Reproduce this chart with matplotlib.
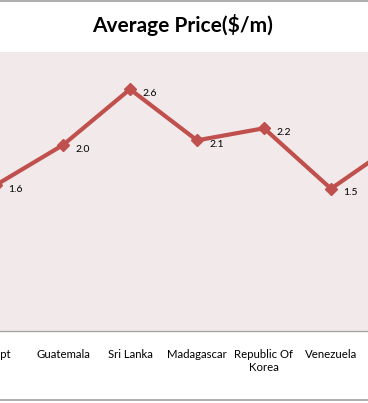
import matplotlib.pyplot as plt
from matplotlib.lines import Line2D

# data (last country is cut off in the reference)
countries = ['Egypt', 'Guatemala', 'Sri Lanka', 'Madagascar', 'Republic Of\nKorea', 'Venezuela', '']
prices = [1.57, 2.0, 2.6, 2.05, 2.18, 1.53, 2.03]
labels = ['1.6', '2.0', '2.6', '2.1', '2.2', '1.5', '2.0']

plt.rcParams['font.family'] = ['Lato', 'DejaVu Sans']

W, H = 368, 403
fig = plt.figure(figsize=(W / 100, H / 100), dpi=100)
fig.patch.set_facecolor('white')

# the reference is a crop: the plot area runs past both side edges.
# category step is 67 px, first category sits at x = -4 px
step, first = 67, -4
left_px = first - 0.5 * step
right_px = first + 6.5 * step
ax = fig.add_axes([left_px / W, 72 / H, (right_px - left_px) / W, 279 / H])
ax.set_facecolor('#F2EAEA')

x = list(range(len(countries)))
ax.plot(x, prices, color='#C0504D', lw=3, marker='D', ms=6, mec='#C0504D', mfc='#C0504D')
for xi, yi, lab in zip(x, prices, labels):
    ax.annotate(lab, (xi, yi), xytext=(9, -3), textcoords='offset points',
                fontsize=7.5, color='black', va='center', ha='left')

ax.set_xticks(x)
ax.set_xticklabels(countries, fontsize=8.2, linespacing=1.25)
ax.set_xlim(-0.5, 6.5)
ax.set_ylim(0, 3)
ax.tick_params(axis='x', length=0, pad=13)
ax.set_yticks([])
for side in ['top', 'left', 'right']:
    ax.spines[side].set_visible(False)
ax.spines['bottom'].set_color('#A6A6A6')
ax.spines['bottom'].set_linewidth(1)

fig.text(0.497, 1 - 25 / H, 'Average Price($/m)', ha='center', va='center',
         fontsize=15, fontweight='bold')

# chart border (top and bottom visible in the crop)
fig.add_artist(Line2D([0, 1], [1 - 1 / H, 1 - 1 / H], color='#A0A0A0', lw=1.2))
fig.add_artist(Line2D([0, 1], [3 / H, 3 / H], color='#A0A0A0', lw=1.2))

fig.savefig('out.png', dpi=100)
